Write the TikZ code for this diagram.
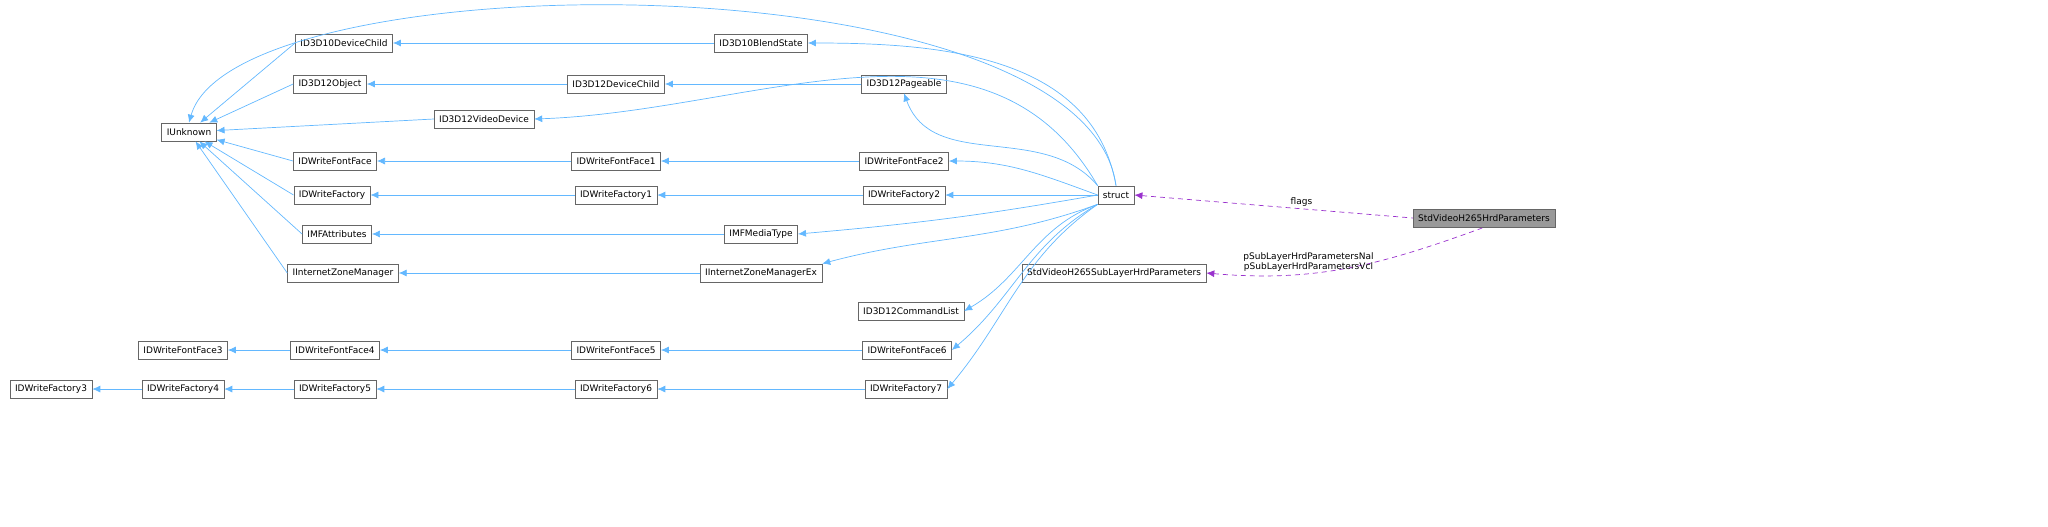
\documentclass[tikz,border=0pt]{standalone}
\usepackage{fontspec}
\setmainfont{DejaVu Sans}
\usetikzlibrary{arrows.meta}
\definecolor{edgeblue}{HTML}{63B8FF}
\definecolor{edgepurple}{HTML}{9A32CD}

\begin{document}
\begin{tikzpicture}[x=0.5pt,y=-0.5pt,line width=0.35pt,
    cls/.style={draw=black!60, fill=white, minimum height=9pt, inner xsep=2.5pt, inner ysep=1pt,
                font=\fontsize{4.5}{5}\selectfont},
    inh/.style={draw=edgeblue, {Latex[length=4pt,width=3.5pt]}-},
    use/.style={draw=edgepurple, dash pattern=on 2.5pt off 2pt, {Latex[length=4pt,width=3.5pt]}-},
    lbl/.style={font=\fontsize{4.5}{5}\selectfont, align=center, inner sep=1pt}]
    \useasboundingbox (0,0) rectangle (2048,526);

    \node[cls] (IUnknown) at (189,132) {IUnknown};
    \node[cls] (D3D10Child) at (344,43) {ID3D10DeviceChild};
    \node[cls] (D3D12Obj) at (330,84) {ID3D12Object};
    \node[cls] (VideoDev) at (484,119) {ID3D12VideoDevice};
    \node[cls] (FontFace) at (335,161) {IDWriteFontFace};
    \node[cls] (Factory) at (332,195) {IDWriteFactory};
    \node[cls] (MFAttr) at (337,234) {IMFAttributes};
    \node[cls] (ZoneMgr) at (343,273) {IInternetZoneManager};

    \node[cls] (BlendState) at (761,43) {ID3D10BlendState};
    \node[cls] (D3D12Child) at (616,84) {ID3D12DeviceChild};
    \node[cls] (Pageable) at (904,84) {ID3D12Pageable};
    \node[cls] (FontFace1) at (616,161) {IDWriteFontFace1};
    \node[cls] (FontFace2) at (904,161) {IDWriteFontFace2};
    \node[cls] (Factory1) at (616,195) {IDWriteFactory1};
    \node[cls] (Factory2) at (904,195) {IDWriteFactory2};
    \node[cls] (MediaType) at (761,234) {IMFMediaType};
    \node[cls] (ZoneMgrEx) at (761,273) {IInternetZoneManagerEx};

    \node[cls] (CmdList) at (911,311) {ID3D12CommandList};
    \node[cls] (FontFace3) at (183,350) {IDWriteFontFace3};
    \node[cls] (FontFace4) at (335,350) {IDWriteFontFace4};
    \node[cls] (FontFace5) at (616,350) {IDWriteFontFace5};
    \node[cls] (FontFace6) at (907,350) {IDWriteFontFace6};
    \node[cls] (Factory3) at (51,389) {IDWriteFactory3};
    \node[cls] (Factory4) at (183,389) {IDWriteFactory4};
    \node[cls] (Factory5) at (335,389) {IDWriteFactory5};
    \node[cls] (Factory6) at (616,389) {IDWriteFactory6};
    \node[cls] (Factory7) at (906,389) {IDWriteFactory7};

    \node[cls] (struct) at (1116,195) {struct};
    \node[cls] (SubLayer) at (1114,273) {StdVideoH265SubLayerHrdParameters};
    \node[cls, fill=black!40] (HrdParams) at (1484,218) {StdVideoH265HrdParameters};

    % base classes of the COM interfaces
    \foreach \n in {D3D10Child, D3D12Obj, VideoDev, FontFace, Factory, MFAttr, ZoneMgr}
        \draw[inh] (IUnknown) -- (\n.west);
    \draw[inh] (D3D10Child) -- (BlendState);
    \draw[inh] (D3D12Obj) -- (D3D12Child);
    \draw[inh] (D3D12Child) -- (Pageable);
    \draw[inh] (FontFace) -- (FontFace1);
    \draw[inh] (FontFace1) -- (FontFace2);
    \draw[inh] (Factory) -- (Factory1);
    \draw[inh] (Factory1) -- (Factory2);
    \draw[inh] (MFAttr) -- (MediaType);
    \draw[inh] (ZoneMgr) -- (ZoneMgrEx);
    \draw[inh] (FontFace3) -- (FontFace4);
    \draw[inh] (FontFace4) -- (FontFace5);
    \draw[inh] (FontFace5) -- (FontFace6);
    \draw[inh] (Factory3) -- (Factory4);
    \draw[inh] (Factory4) -- (Factory5);
    \draw[inh] (Factory5) -- (Factory6);
    \draw[inh] (Factory6) -- (Factory7);

    % struct
    \draw[inh] (IUnknown.north) .. controls (235,-40) and (1085,-45) .. (struct.north);
    \draw[inh] (BlendState.east) to[out=0,in=100] (struct.north);
    \draw[inh] (Pageable.south) to[out=-70,in=130] (struct.north west);
    \draw[inh] (VideoDev.east) to[out=2,in=120] (struct.north west);
    \draw[inh] (FontFace2.east) to[out=0,in=160] (struct.west);
    \draw[inh] (Factory2.east) -- (struct.west);
    \draw[inh] (MediaType.east) to[out=5,in=190] (struct.west);
    \draw[inh] (ZoneMgrEx.north east) to[out=15,in=200] (struct.south west);
    \draw[inh] (CmdList.east) to[out=30,in=200] (struct.south west);
    \draw[inh] (FontFace6.east) to[out=40,in=210] (struct.south west);
    \draw[inh] (Factory7.east) to[out=50,in=215] (struct.south west);

    % members
    \draw[use] (struct.east) -- node[lbl, above, pos=0.6] {flags} (HrdParams.west);
    \draw[use] (SubLayer.east) to[out=-5,in=-160] node[lbl, above, pos=0.35] {pSubLayerHrdParametersNal\\pSubLayerHrdParametersVcl} (HrdParams.south);
\end{tikzpicture}
\end{document}
